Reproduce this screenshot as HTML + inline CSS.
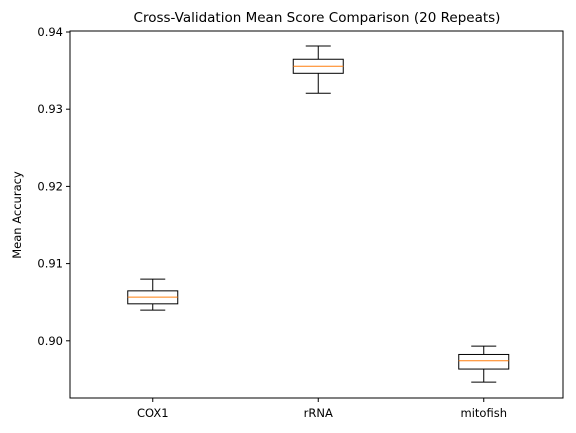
<!DOCTYPE html>
<html><head><meta charset="utf-8"><style>
body{margin:0;background:#fff}
svg{display:block;font-family:"DejaVu Sans","Liberation Sans",sans-serif}
</style></head><body>
<svg id="chart" width="576" height="433" viewBox="0 0 576 433" xmlns="http://www.w3.org/2000/svg">
<rect width="576" height="433" fill="#fff"/>
<text x="317" y="22" text-anchor="middle" font-size="13.5">Cross-Validation Mean Score Comparison (20 Repeats)</text>
<text transform="translate(21,215) rotate(-90)" text-anchor="middle" font-size="11.5">Mean Accuracy</text>
<g id="marks"></g>
<rect x="70" y="31" width="493" height="367" fill="none" stroke="#000" stroke-width="1"/>
</svg>
<script>
const categories = ["COX1","rRNA","mitofish"];
const whiskerLow = [0.90397,0.93206,0.89465];
const q1 = [0.90479,0.93465,0.89634];
const medians = [0.90566,0.93556,0.89741];
const q3 = [0.90647,0.93647,0.89823];
const whiskerHigh = [0.90799,0.93819,0.89931];
const yTicks = [0.90,0.91,0.92,0.93,0.94];
const yTickLabels = ["0.90","0.91","0.92","0.93","0.94"];

const L=70,R=563,T=31,B=398;
const y0=32, pxPer=7720;
function y(v){return y0+(0.94-v)*pxPer;}
function x(i){return L+165.5*(i+0.5);}
const ns="http://www.w3.org/2000/svg";
const g=document.getElementById('marks');
function mk(tag,attrs,parent){const e=document.createElementNS(ns,tag);for(const k in attrs)e.setAttribute(k,attrs[k]);(parent||g).appendChild(e);return e;}

yTicks.forEach((t,i)=>{
  const ty=y(t);
  const tk=mk('line',{x1:L-4,x2:L,y1:ty,y2:ty,stroke:'#000'});
  
  
  const lb=mk('text',{x:L-7,y:ty+4,'text-anchor':'end','font-size':'11.5'});
  lb.textContent=yTickLabels[i];
  
  
});
categories.forEach((c,i)=>{
  const cx=x(i), hw=25, cw=12.5;
  const grp=mk('g',{});
  
  
  mk('line',{x1:cx,x2:cx,y1:y(whiskerLow[i]),y2:y(q1[i]),stroke:'#000'},grp);
  mk('line',{x1:cx,x2:cx,y1:y(q3[i]),y2:y(whiskerHigh[i]),stroke:'#000'},grp);
  mk('line',{x1:cx-cw,x2:cx+cw,y1:y(whiskerLow[i]),y2:y(whiskerLow[i]),stroke:'#000'},grp);
  mk('line',{x1:cx-cw,x2:cx+cw,y1:y(whiskerHigh[i]),y2:y(whiskerHigh[i]),stroke:'#000'},grp);
  mk('rect',{x:cx-hw,y:y(q3[i]),width:2*hw,height:y(q1[i])-y(q3[i]),fill:'none',stroke:'#000'},grp);
  mk('line',{x1:cx-hw,x2:cx+hw,y1:y(medians[i]),y2:y(medians[i]),stroke:'#ff7f0e'},grp);
  const tk=mk('line',{x1:cx,x2:cx,y1:B,y2:B+4,stroke:'#000'});
  
  
  const lb=mk('text',{x:cx,y:B+19,'text-anchor':'middle','font-size':'11.5'});
  lb.textContent=c;
  
  
});
</script>
</body></html>
